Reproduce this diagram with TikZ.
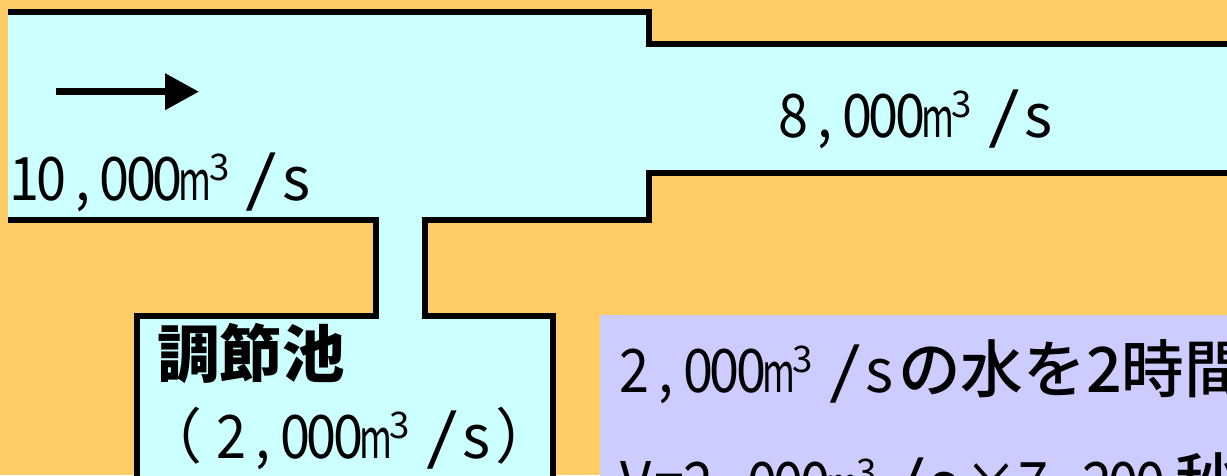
\documentclass[tikz,border=0pt]{standalone}
\usepackage{fontspec}
\newfontfamily\jp{Noto Sans CJK JP}
\newfontfamily\jpm{Noto Sans CJK JP Medium}
\usetikzlibrary{arrows.meta}
\definecolor{bgorange}{HTML}{FFCC66}
\definecolor{water}{HTML}{CCFFFF}
\definecolor{note}{HTML}{CCCCFF}
\newlength\pxu \setlength\pxu{0.75pt}
\newcommand\cel[2]{\makebox[#1\pxu][c]{\makebox[0pt][c]{\scalebox{0.9}[1]{#2}}}}
\newcommand\dg[1]{\cel{26.5}{#1}}
\newcommand\cma{\cel{37}{,}}
\newcommand\unitms{\makebox[28.5\pxu][c]{\makebox[0pt][c]{\scalebox{0.65}[1]{\fontsize{41}{41}\selectfont m}}}%
  \makebox[20.5\pxu][c]{\raisebox{15pt}{\fontsize{27.5}{27.5}\selectfont 3}}%
  \hspace{16\pxu}\makebox[32\pxu][c]{\scalebox{1.35}[1]{/}}\makebox[37\pxu][c]{s}}
\tikzset{
  wall/.style={line width=4.5pt, line join=miter},
  lbl/.style={anchor=base west, inner sep=0pt, font=\jp\fontsize{45}{54}\selectfont},
  bigk/.style={anchor=base west, inner sep=0pt, font=\jp\bfseries\fontsize{47}{56}\selectfont},
  flowarrow/.style={line width=5.25pt, -{Triangle[length=25.5pt,width=26.25pt]}}
}
\begin{document}
\begin{tikzpicture}[x=0.75pt,y=-0.75pt]
\useasboundingbox (0,0) rectangle (1227,475);
\clip (0,0) rectangle (1227,475);
\fill[bgorange] (0,0) rectangle (1227,475);
% water areas
\fill[water] (8,12) rectangle (648.5,219.5);
\fill[water] (640,44) rectangle (1240,172.5);
\fill[water] (376,210) rectangle (424.7,320);
\fill[water] (137,315.5) rectangle (552.5,490);
% note panel
\fill[note] (600,315) rectangle (1240,490);
% walls
\draw[wall] (8,12) -- (648.5,12) -- (648.5,44) -- (1240,44);
\draw[wall] (1240,172.5) -- (648.5,172.5) -- (648.5,219.5) -- (424.7,219.5)
  -- (424.7,315.5) -- (552.5,315.5) -- (552.5,490);
\draw[wall] (8,219.5) -- (376,219.5) -- (376,315.5) -- (137,315.5) -- (137,490);
% flow arrow
\coordinate (a0) at (56,91.7);
\coordinate (a1) at (199,91.7);
\draw[flowarrow] (a0) -- (a1);
% labels
\node[lbl] (inflow) at (11,200) {\dg{1}\dg{0}\cma\dg{0}\dg{0}\dg{0}\unitms};
\node[lbl] (outflow) at (780,137) {\dg{8}\cma\dg{0}\dg{0}\dg{0}\unitms};
\node[bigk] (pond) at (157,377) {調節池};
\node[lbl] (pondq) at (142,458) {（\hspace{16\pxu}\dg{2}\cma\dg{0}\dg{0}\dg{0}\unitms）};
\node[lbl] (note1) at (621,392) {\dg{2}\cma\dg{0}\dg{0}\dg{0}\unitms{\jpm\fontsize{47}{56}\selectfont の水を2時間}};
\node[lbl] (note2) at (618,505) {\cel{35}{V}\cel{32}{=}\dg{2}\cma\dg{0}\dg{0}\dg{0}\unitms\cel{58}{×}\dg{7}\cma\dg{2}\dg{0}\dg{0}\hspace{12\pxu}{\jpm\fontsize{47}{56}\selectfont 秒}};
\end{tikzpicture}
\end{document}
